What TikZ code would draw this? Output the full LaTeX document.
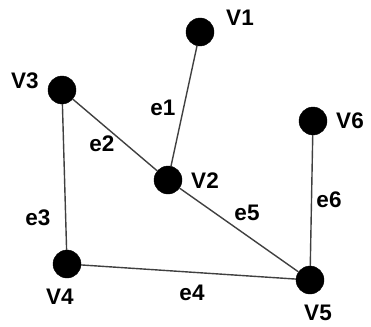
\documentclass[tikz,border=0pt]{standalone}
\usepackage{fontspec}
\setmainfont{Liberation Sans}
\begin{document}
\begin{tikzpicture}[x=1pt,y=-1pt,
  vertex/.style={circle,fill=black,draw=black,minimum size=28pt,inner sep=0pt},
  lbl/.style={font=\bfseries\fontsize{22.5}{22.5}\selectfont,inner sep=0pt},
  edgeline/.style={draw=black!75,line width=1.4pt}]
\useasboundingbox (0,0) rectangle (371,326);
\node[vertex] (v1) at (200,32) {};
\node[vertex] (v3) at (62,90) {};
\node[vertex] (v2) at (168,180) {};
\node[vertex] (v6) at (313,121) {};
\node[vertex] (v4) at (67,264) {};
\node[vertex] (v5) at (310,280) {};
\node[lbl] (l1) at (240,18) {V1};
\node[lbl] (l3) at (25,81) {V3};
\node[lbl] (l2) at (205,181) {V2};
\node[lbl] (l6) at (350,121) {V6};
\node[lbl] (l4) at (60,297) {V4};
\node[lbl] (l5) at (318,313) {V5};
\node[lbl] (e1) at (163,108) {e1};
\node[lbl] (e2) at (102,144) {e2};
\node[lbl] (e3) at (38,218) {e3};
\node[lbl] (e4) at (192,293) {e4};
\node[lbl] (e5) at (247,213) {e5};
\node[lbl] (e6) at (329,200) {e6};
\draw[edgeline] (v1) -- (v2);
\draw[edgeline] (v3) -- (v2);
\draw[edgeline] (v3) -- (v4);
\draw[edgeline] (v4) -- (v5);
\draw[edgeline] (v2) -- (v5);
\draw[edgeline] (v6) -- (v5);
\end{tikzpicture}
\end{document}
